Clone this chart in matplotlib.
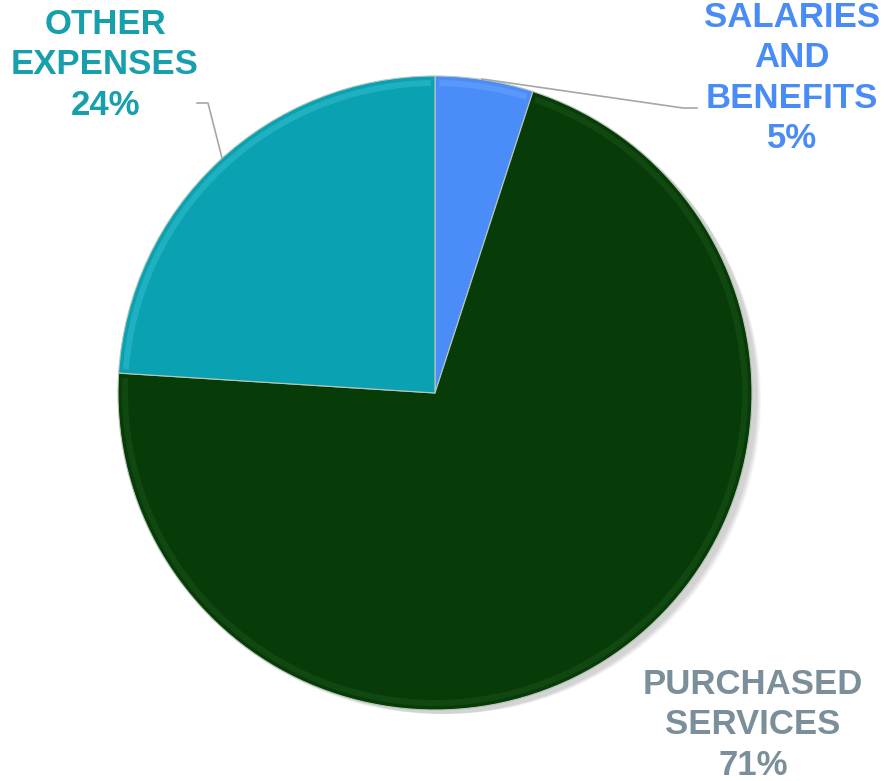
import matplotlib.pyplot as plt
from matplotlib.patches import Circle, Wedge

# data
labels = ["SALARIES\nAND\nBENEFITS", "PURCHASED\nSERVICES", "OTHER\nEXPENSES"]
shares = [5, 71, 24]
colors = ["#4A8DF8", "#073B07", "#0AA2B2"]
rim_colors = ["#6FA8FF", "#1E5A1E", "#3CC4D2"]
text_colors = ["#4A8CF5", "#7B8F9A", "#17A0AB"]

W, H = 884, 781
fig = plt.figure(figsize=(W / 100, H / 100), dpi=100)
ax = fig.add_axes([0, 0, 1, 1])

cx, cy, r = 435, H - 393, 317

# soft shadow to the lower right
for i in range(5):
    ax.add_patch(Circle((cx + 4 + i * 2, cy - 3 - i), r + 1 - i, color="black",
                        alpha=0.035, lw=0, zorder=0))

wedges, _ = ax.pie(shares, colors=colors, startangle=90, counterclock=False,
                   center=(cx, cy), radius=r,
                   wedgeprops=dict(edgecolor="#B8C8B8", linewidth=0.8))
for w, rc in zip(wedges, rim_colors):
    w.set_zorder(2)
    # light bevel along the rim
    ax.add_patch(Wedge((cx, cy), r - 4, w.theta1 + 0.8, w.theta2 - 0.8, width=6,
                       color=rc, alpha=0.45, lw=0, zorder=3))

font = ["Liberation Sans", "DejaVu Sans"]
label_pos = [(792, H - 78), (753, H - 725), (105, H - 65)]
for lab, s, c, (x, y) in zip(labels, shares, text_colors, label_pos):
    ax.text(x, y, f"{lab}\n{s}%", color=c, ha="center", va="center",
            fontsize=25, fontweight="bold", family=font, linespacing=1.28,
            zorder=5)

# leader lines
ax.plot([482, 683, 697], [H - 79, H - 108, H - 108], color="#A6A6A6", lw=1.2, zorder=4)
ax.plot([222, 208, 197], [H - 158, H - 103, H - 103], color="#A6A6A6", lw=1.2, zorder=4)

ax.set_xlim(0, W)
ax.set_ylim(0, H)
ax.set_aspect("equal")
ax.axis("off")

fig.savefig("out.png", dpi=100, facecolor="white")
